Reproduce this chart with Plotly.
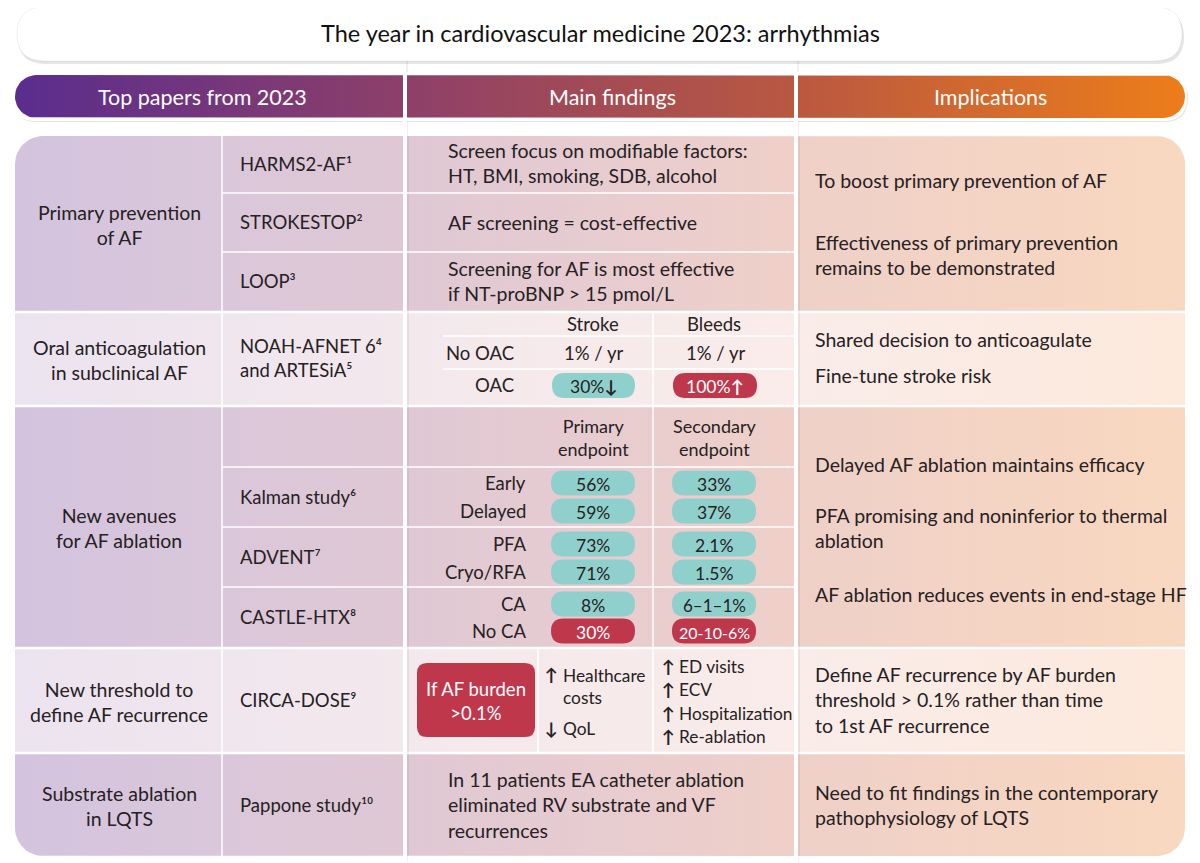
import math
import plotly.graph_objects as go

# ---------------- data (text content of the infographic) ----------------
title = "The year in cardiovascular medicine 2023: arrhythmias"
headers = ["Top papers from 2023", "Main findings", "Implications"]

categories = ["Primary prevention<br>of AF",
              "Oral anticoagulation<br>in subclinical AF",
              "New avenues<br>for AF ablation",
              "New threshold to<br>define AF recurrence",
              "Substrate ablation<br>in LQTS"]

studies_prev = ["HARMS2-AF¹", "STROKESTOP²", "LOOP³"]
findings_prev = ["Screen focus on modifiable factors:<br>HT, BMI, smoking, SDB, alcohol",
                 "AF screening = cost-effective",
                 "Screening for AF is most effective<br>if NT-proBNP > 15 pmol/L"]
study_oac = "NOAH-AFNET 6⁴<br>and ARTESiA⁵"
oac_cols = ["Stroke", "Bleeds"]
oac_rows = ["No OAC", "OAC"]
oac_stroke = ["1% / yr", "30%"]
oac_bleeds = ["1% / yr", "100%"]
oac_arrow_stroke = "↓"
oac_arrow_bleeds = "↑"

studies_abl = ["Kalman study⁶", "ADVENT⁷", "CASTLE-HTX⁸"]
abl_cols = ["Primary<br>endpoint", "Secondary<br>endpoint"]
abl_rows = ["Early", "Delayed", "PFA", "Cryo/RFA", "CA", "No CA"]
abl_primary = ["56%", "59%", "73%", "71%", "8%", "30%"]
abl_secondary = ["33%", "37%", "2.1%", "1.5%", "6–1–1%", "20-10-6%"]
abl_unfavourable = [False, False, False, False, False, True]

study_circa = "CIRCA-DOSE⁹"
circa_box = "If AF burden<br>>0.1%"
circa_mid_arrows = ["↑", "↓"]
circa_mid = ["Healthcare<br>costs", "QoL"]
circa_right = ["ED visits", "ECV", "Hospitalization", "Re-ablation"]

study_lqts = "Pappone study¹⁰"
finding_lqts = "In 11 patients EA catheter ablation<br>eliminated RV substrate and VF<br>recurrences"

implications = [
    ("To boost primary prevention of AF", 180),
    ("Effectiveness of primary prevention<br>remains to be demonstrated", 255),
    ("Shared decision to anticoagulate", 339),
    ("Fine-tune stroke risk", 375),
    ("Delayed AF ablation maintains efficacy", 464),
    ("PFA promising and noninferior to thermal<br>ablation", 528),
    ("AF ablation reduces events in end-stage HF", 594),
    ("Define AF recurrence by AF burden<br>threshold > 0.1% rather than time<br>to 1st AF recurrence", 700),
    ("Need to fit findings in the contemporary<br>pathophysiology of LQTS", 805),
]

# ---------------- style ----------------
W, H = 1200, 863
OFF = 8               # page body margin of the browser
FONT = "Lato"
TXT = "#262123"
TEAL = "#8fd0cc"
RED = "#bf374b"
FS = 19.5

X0, X1 = 15, 1185
C1, C2, C3 = 222, 405, 796
ROWS = [(136, 312), (312, 406), (406, 648), (648, 753), (753, 856)]
DARK = [[0, "#d3c3de"], [0.18, "#dac7da"], [0.33, "#dfc8d4"], [0.5, "#e7ccd0"],
        [0.67, "#efd0c8"], [1, "#f8d8bf"]]
LIGHT = [[0, "#ebe3ef"], [0.33, "#f3e8ec"], [0.67, "#f9ece9"], [1, "#fde9dc"]]
HEAD = [[0, "#5a2d8e"], [0.33, "#8d3f69"], [0.67, "#ba5840"], [1, "#ed7d1a"]]

fig = go.Figure()


def rr_points(x0, y0, x1, y1, r, n=12):
    rtl, rtr, rbr, rbl = r
    xs, ys = [], []

    def arc(cx, cy, rad, a0, a1):
        if rad == 0:
            xs.append(cx); ys.append(cy); return
        for i in range(n + 1):
            a = a0 + (a1 - a0) * i / n
            xs.append(cx + rad * math.cos(a)); ys.append(cy + rad * math.sin(a))
    arc(x0 + rtl, y0 + rtl, rtl, math.pi, 1.5 * math.pi)
    arc(x1 - rtr, y0 + rtr, rtr, 1.5 * math.pi, 2 * math.pi)
    arc(x1 - rbr, y1 - rbr, rbr, 0, 0.5 * math.pi)
    arc(x0 + rbl, y1 - rbl, rbl, 0.5 * math.pi, math.pi)
    xs.append(xs[0]); ys.append(ys[0])
    return xs, ys


def band(x0, y0, x1, y1, r, scale):
    xs, ys = rr_points(x0, y0, x1, y1, r)
    fig.add_trace(go.Scatter(x=xs, y=ys, mode="lines", fill="toself",
                             line=dict(width=0, color="rgba(0,0,0,0)"),
                             fillgradient=dict(type="horizontal", colorscale=scale,
                                               start=X0, stop=X1),
                             hoverinfo="skip", showlegend=False))


def rr_path(x0, y0, x1, y1, r):
    return (f"M {x0+r},{y0} L {x1-r},{y0} Q {x1},{y0} {x1},{y0+r} L {x1},{y1-r} "
            f"Q {x1},{y1} {x1-r},{y1} L {x0+r},{y1} Q {x0},{y1} {x0},{y1-r} "
            f"L {x0},{y0+r} Q {x0},{y0} {x0+r},{y0} Z")


shapes = []


def rshape(x0, y0, x1, y1, r, fill, layer="above", line=None):
    shapes.append(dict(type="path", path=rr_path(x0, y0, x1, y1, r), fillcolor=fill,
                       line=line or dict(width=0), layer=layer, xref="x", yref="y"))


def hline(y, xa, xb, w=2, color="white", layer="above"):
    shapes.append(dict(type="line", x0=xa, x1=xb, y0=y, y1=y, xref="x", yref="y",
                       line=dict(color=color, width=w), layer=layer))


def vline(x, ya, yb, w=2, color="white", layer="above"):
    shapes.append(dict(type="line", x0=x, x1=x, y0=ya, y1=yb, xref="x", yref="y",
                       line=dict(color=color, width=w), layer=layer))


ann = []


def text(x, y, s, size=FS, color=TXT, xanchor="left", align=None):
    ann.append(dict(x=x, y=y, xref="x", yref="y", text=s, showarrow=False,
                    xanchor=xanchor, yanchor="middle", align=align or xanchor,
                    font=dict(family=FONT, size=size, color=color)))


# ---------------- title box ----------------
vline(C2 + 2, 58, 862, 1.2, "rgba(0,0,0,0.10)", "below")
vline(C3 + 2, 58, 862, 1.2, "rgba(0,0,0,0.10)", "below")
rshape(18, 10, 1184, 64, 27, "rgba(0,0,0,0.10)", "below")
rshape(17, 7, 1182, 61, 27, "white", "below", dict(width=1, color="rgba(0,0,0,0.06)"))
text(600, 33, title, size=23.5, color="#111", xanchor="center")

# ---------------- header ----------------
rshape(13, 74, 1188, 122, 24, "rgba(0,0,0,0.10)", "below")
rshape(12, 72, 1187, 121, 24, "white", "below")
band(X0, 75, X1, 118, (21.5, 21.5, 21.5, 21.5), HEAD)
for hx, h in zip([202, 612, 990], headers):
    text(hx, 97, h, size=21.5, color="white", xanchor="center")

# ---------------- body bands ----------------
radii = [(28, 28, 0, 0), (0, 0, 0, 0), (0, 0, 0, 0), (0, 0, 0, 0), (0, 0, 28, 28)]
for i, (ya, yb) in enumerate(ROWS):
    band(X0, ya, X1, yb, radii[i], LIGHT if i in (1, 3) else DARK)

# row separators and grid
for ya, yb in ROWS[1:]:
    hline(ya, X0, X1, 2.5)
vline(C1, 136, 856, 1.5)
for x in (C2, C3):
    vline(x, 72, 862, 4)
    vline(x + 3, 136, 856, 2, "rgba(0,0,0,0.05)")
# row 1
for y in (193, 252):
    hline(y, C1, C3, 1.5)
# row 2 table
hline(336, 443, C3, 1.5)
hline(369, 443, C3, 1.5)
vline(653, 312, 406, 1.5)
# row 3 table
for y in (467, 527, 587):
    hline(y, C1, C3, 1.5)
vline(653, 406, 648, 1.5)
# row 4
vline(538, 648, 753, 1.5)
vline(653, 648, 753, 1.5)

# ---------------- left category column ----------------
for (ya, yb), c in zip(ROWS, categories):
    text(119, (ya + yb) / 2 + 1, c, xanchor="center")

# ---------------- studies ----------------
SX = 238
SFS = 18.5
for y, s in zip([164, 222, 281], studies_prev):
    text(SX, y, s, size=SFS)
text(SX, 358, study_oac, size=SFS)
for y, s in zip([497, 557, 617], studies_abl):
    text(SX, y, s, size=SFS)
text(SX, 700, study_circa, size=SFS)
text(SX, 805, study_lqts, size=SFS)

# ---------------- main findings ----------------
FX = 446
for y, s in zip([163, 222, 281], findings_prev):
    text(FX, y, s)

PC, SC = 593, 714     # column centres of the small tables
PW = 42               # pill half width
PH = 12.5             # pill half height
TFS = 18.5


def pill_size(s):
    return 17.5 if len(s) < 6 else (17 if len(s) < 7 else 16)


# OAC table
for x, s in zip([PC, SC], oac_cols):
    text(x, 324, s, size=TFS, xanchor="center")
text(516, 353, oac_rows[0], size=TFS, xanchor="right")
text(516, 385, oac_rows[1], size=TFS, xanchor="right")
text(PC, 353, oac_stroke[0], size=TFS, xanchor="center")
text(SC + 1, 353, oac_bleeds[0], size=TFS, xanchor="center")
rshape(PC - 41, 373, PC + 42, 398, PH, TEAL)
rshape(SC - 41, 373, SC + 43, 398, PH, RED)
text(PC, 386, oac_stroke[1] + "<b>" + oac_arrow_stroke + "</b>", size=17.5,
     xanchor="center")
text(SC + 1, 386, oac_bleeds[1] + "<b>" + oac_arrow_bleeds + "</b>", size=17.5,
     color="white", xanchor="center")

# ablation table
for x, s in zip([PC, SC], abl_cols):
    text(x, 437, s, size=18, xanchor="center")
abl_y = [483, 511, 544, 572, 604, 631]
for y, lab, p, s, bad in zip(abl_y, abl_rows, abl_primary, abl_secondary,
                             abl_unfavourable):
    text(528, y, lab, size=TFS, xanchor="right")
    fill = RED if bad else TEAL
    col = "white" if bad else TXT
    rshape(PC - PW, y - PH, PC + PW, y + PH, PH, fill)
    rshape(SC - PW, y - PH, SC + PW, y + PH, PH, fill)
    text(PC, y + 1, p, size=pill_size(p), color=col, xanchor="center")
    text(SC, y + 1, s, size=pill_size(s), color=col, xanchor="center")

# CIRCA-DOSE
CFS = 17.3
rshape(417, 663, 535, 737, 10, RED)
text(476, 701, circa_box, size=18.5, color="white", xanchor="center")
for (ay, ty), a, s in zip([(674, 686), (728, 728)], circa_mid_arrows, circa_mid):
    text(543, ay, "<b>" + a + "</b>", size=CFS)
    text(561, ty, s, size=CFS)
for y, s in zip([666, 689, 713, 736], circa_right):
    text(660, y, "<b>↑</b>", size=CFS)
    text(677, y, s, size=CFS)

# LQTS
text(FX, 805, finding_lqts)

# ---------------- implications ----------------
for s, y in implications:
    text(813, y, s)

fig.update_layout(
    width=W - OFF, height=H - OFF, autosize=False,
    margin=dict(l=0, r=0, t=0, b=0),
    paper_bgcolor="white", plot_bgcolor="white",
    xaxis=dict(range=[OFF, W], visible=False, fixedrange=True),
    yaxis=dict(range=[H, OFF], visible=False, fixedrange=True),
    shapes=shapes, annotations=ann, showlegend=False,
)
fig.write_html("out.html")
